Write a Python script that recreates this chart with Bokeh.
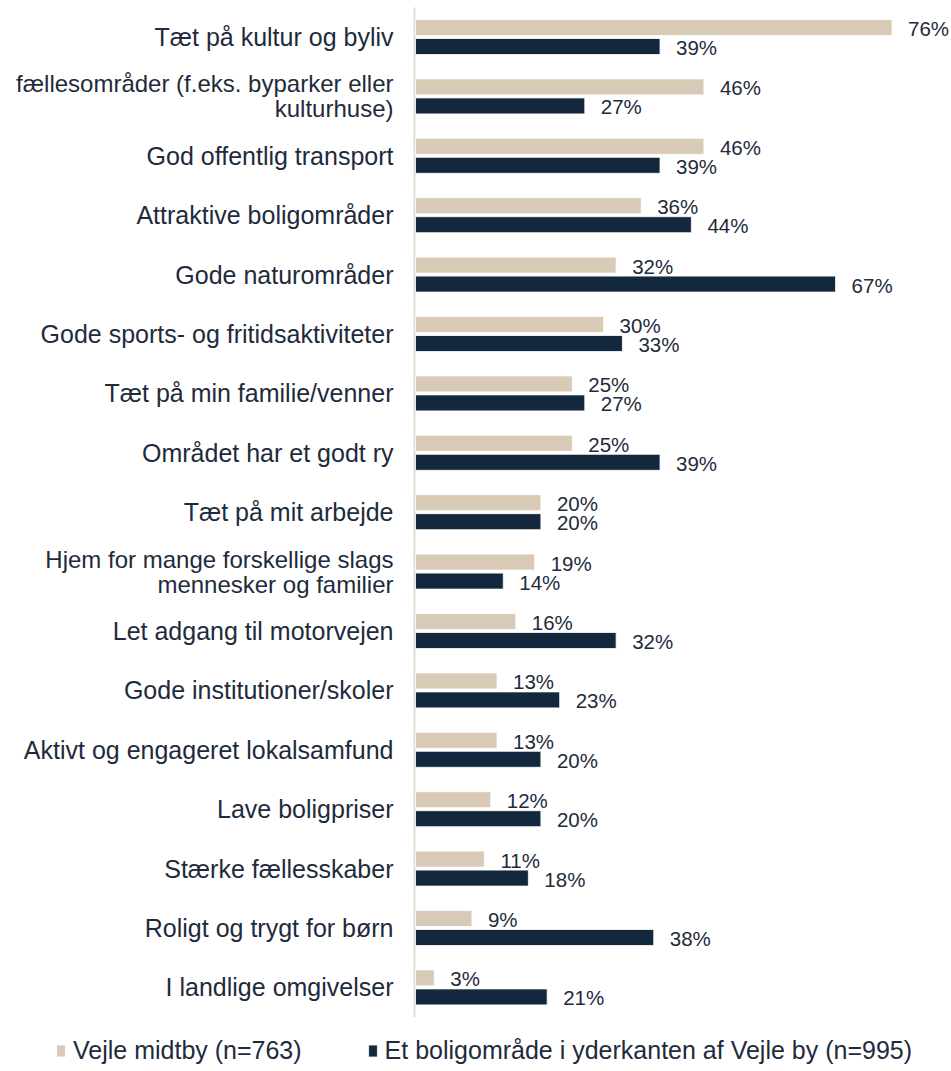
import numpy as np
from bokeh.plotting import figure
from bokeh.models import ColumnDataSource, Range1d, Legend, LegendItem
from bokeh.core.properties import value
from bokeh.embed import file_html
from bokeh.resources import INLINE

# ---- data ----
categories = [
    "Tæt på kultur og byliv",
    "fællesområder (f.eks. byparker eller\nkulturhuse)",
    "God offentlig transport",
    "Attraktive boligområder",
    "Gode naturområder",
    "Gode sports- og fritidsaktiviteter",
    "Tæt på min familie/venner",
    "Området har et godt ry",
    "Tæt på mit arbejde",
    "Hjem for mange forskellige slags\nmennesker og familier",
    "Let adgang til motorvejen",
    "Gode institutioner/skoler",
    "Aktivt og engageret lokalsamfund",
    "Lave boligpriser",
    "Stærke fællesskaber",
    "Roligt og trygt for børn",
    "I landlige omgivelser",
]
midtby = [76, 46, 46, 36, 32, 30, 25, 25, 20, 19, 16, 13, 13, 12, 11, 9, 3]
yderkant = [39, 27, 39, 44, 67, 33, 27, 39, 20, 14, 32, 23, 20, 20, 18, 38, 21]
series_names = ["Vejle midtby (n=763)", "Et boligområde i yderkanten af Vejle by (n=995)"]

# ---- styling ----
LIGHT = "#d8cab6"
DARK = "#13283d"
TEXT = "#1e2b3c"
FONT = value("Liberation Sans")

W, H = 951, 1071
PX_PER_PCT = 6.27
ZERO_PX = 415.0
PITCH = 59.4
FIRST_CENTER = 36.5

idx = np.arange(len(categories), dtype=float)
bar_off = 9.5 / PITCH
bar_h = 16.0 / PITCH
# the long wrapped label is set a touch smaller so it fits the page
cat_sizes = ["24px" if len(c) > 40 else "25px" for c in categories]

src = ColumnDataSource(dict(
    cat=categories,
    cat_size=cat_sizes,
    idx=idx,
    y_light=idx - bar_off,
    y_dark=idx + bar_off,
    midtby=midtby,
    yderkant=yderkant,
    lab_m=[f"{v}%" for v in midtby],
    lab_y=[f"{v}%" for v in yderkant],
))

p = figure(
    width=W, height=H,
    x_range=Range1d(-ZERO_PX / PX_PER_PCT, (W - ZERO_PX) / PX_PER_PCT),
    y_range=Range1d((H - FIRST_CENTER) / PITCH, -FIRST_CENTER / PITCH),
    output_backend="svg", toolbar_location=None,
    min_border=0, min_border_left=0, min_border_right=0,
    min_border_top=0, min_border_bottom=0,
)
p.axis.visible = False
p.grid.visible = False
p.outline_line_color = None
p.background_fill_color = "white"
p.border_fill_color = "white"

# vertical axis line
p.segment(x0=[-1.0 / PX_PER_PCT], x1=[-1.0 / PX_PER_PCT],
          y0=[(7 - 36.5) / PITCH], y1=[(1017 - 36.5) / PITCH],
          line_color="#e3dccf", line_width=2)

r1 = p.hbar(y="y_light", left=0, right="midtby", height=bar_h, source=src,
            fill_color=LIGHT, line_color="white", line_width=0.8)
r2 = p.hbar(y="y_dark", left=0, right="yderkant", height=bar_h, source=src,
            fill_color=DARK, line_color="white", line_width=0.8)

# value labels
p.text(x="midtby", y="y_light", text="lab_m", source=src, x_offset=16, y_offset=1,
       text_align="left", text_baseline="middle", text_font=FONT,
       text_font_size="20.5px", text_color=TEXT)
p.text(x="yderkant", y="y_dark", text="lab_y", source=src, x_offset=16, y_offset=1,
       text_align="left", text_baseline="middle", text_font=FONT,
       text_font_size="20.5px", text_color=TEXT)

# category labels
p.text(x=0, y="idx", text="cat", source=src, x_offset=-22, y_offset=0,
       text_align="right", text_baseline="middle", text_font=FONT,
       text_font_size="cat_size", text_color=TEXT, text_line_height=0.93)

legend = Legend(
    items=[LegendItem(label=series_names[0], renderers=[r1]),
           LegendItem(label=series_names[1], renderers=[r2])],
    location=(55, 6), orientation="horizontal",
    label_text_font="Liberation Sans", label_text_font_size="25px",
    label_text_color=TEXT, glyph_width=11, glyph_height=15,
    label_standoff=7, spacing=65, padding=0, margin=0,
    border_line_color=None, background_fill_alpha=0,
)
p.add_layout(legend)

open("out.html", "w").write(file_html(p, INLINE))
